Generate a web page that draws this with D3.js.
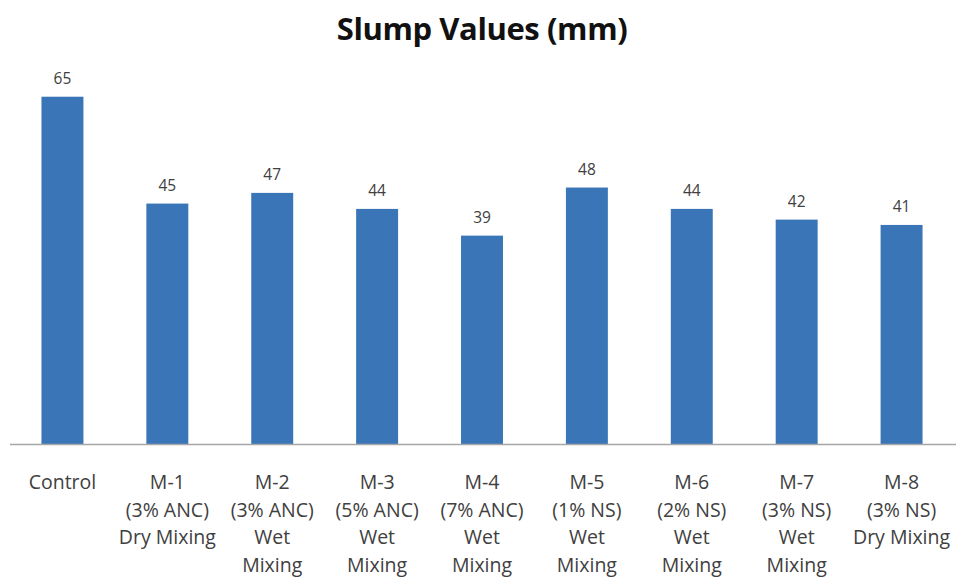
<!DOCTYPE html>
<html>
<head>
<meta charset="utf-8">
<script src="https://cdn.jsdelivr.net/npm/d3@7"></script>
<style>
  html, body { margin: 0; padding: 0; background: #fff; }
  svg { display: block; }
</style>
</head>
<body>
<svg id="chart" width="956" height="581"></svg>
<script>
// Slump test results per mix
const categories = ["Control", "M-1", "M-2", "M-3", "M-4", "M-5", "M-6", "M-7", "M-8"];
const slumpValues = [65, 45, 47, 44, 39, 48, 44, 42, 41];
const categoryLabels = [
  ["Control"],
  ["M-1", "(3% ANC)", "Dry Mixing"],
  ["M-2", "(3% ANC)", "Wet", "Mixing"],
  ["M-3", "(5% ANC)", "Wet", "Mixing"],
  ["M-4", "(7% ANC)", "Wet", "Mixing"],
  ["M-5", "(1% NS)", "Wet", "Mixing"],
  ["M-6", "(2% NS)", "Wet", "Mixing"],
  ["M-7", "(3% NS)", "Wet", "Mixing"],
  ["M-8", "(3% NS)", "Dry Mixing"]
];
const chartTitle = "Slump Values (mm)";

const svg = d3.select("#chart");
const font = "'Open Sans', 'Noto Sans', sans-serif";

const x = d3.scaleBand()
  .domain(categories)
  .range([10, 954])
  .paddingInner(0.6)
  .paddingOuter(0.3);

const y = d3.scaleLinear()
  .domain([0, 70])
  .range([444, 70]);

// Title
svg.append("text")
  .attr("x", 482)
  .attr("y", 40)
  .attr("text-anchor", "middle")
  .attr("font-family", font)
  .attr("font-weight", "bold")
  .attr("font-size", 31)
  .attr("letter-spacing", -0.4)
  .attr("fill", "#111")
  .text(chartTitle);

// Bars
svg.append("g").selectAll("rect")
  .data(slumpValues)
  .join("rect")
  .attr("x", (d, i) => x(categories[i]))
  .attr("y", d => y(d))
  .attr("width", x.bandwidth())
  .attr("height", d => y(0) - y(d))
  .attr("fill", "#3a76b7");

// Value labels
svg.append("g").selectAll("text")
  .data(slumpValues)
  .join("text")
  .attr("x", (d, i) => x(categories[i]) + x.bandwidth() / 2)
  .attr("y", d => y(d) - 13)
  .attr("text-anchor", "middle")
  .attr("font-family", font)
  .attr("font-size", 15.5)
  .attr("fill", "#404040")
  .text(d => d);

// Category axis (baseline only, no ticks)
const xAxis = svg.append("g")
  .attr("transform", `translate(0,${y(0)})`)
  .call(d3.axisBottom(x).tickSize(0).tickFormat(""));
xAxis.select(".domain")
  .attr("d", "M10,0.5H956")
  .attr("stroke", "#a6a6a6")
  .attr("stroke-width", 1.5);

// Multi-line category labels
const lbl = svg.append("g").selectAll("text")
  .data(categories)
  .join("text")
  .attr("text-anchor", "middle")
  .attr("font-family", font)
  .attr("font-size", 19.5)
  .attr("fill", "#404040")
  .attr("x", d => x(d) + x.bandwidth() / 2)
  .attr("y", 489);

lbl.each(function(d, i) {
  const t = d3.select(this);
  categoryLabels[i].forEach((line, j) => {
    t.append("tspan")
      .attr("x", x(d) + x.bandwidth() / 2)
      .attr("y", 489 + j * 27.5)
      .text(line);
  });
});
</script>
</body>
</html>
